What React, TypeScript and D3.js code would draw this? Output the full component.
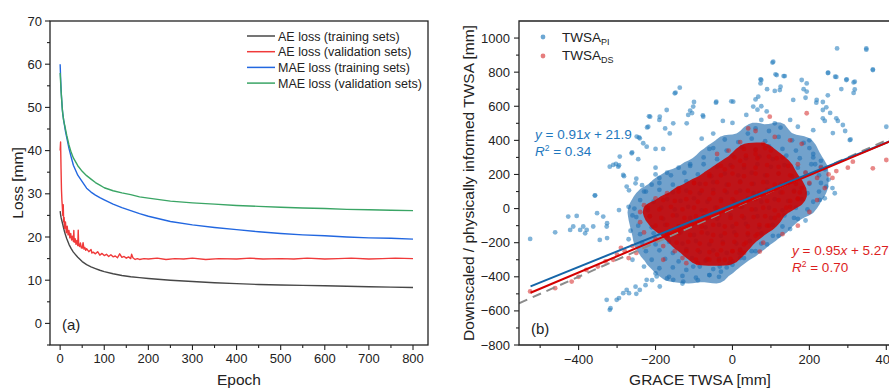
import React, { useMemo } from "react";
import * as d3 from "d3";

// ---------- Panel (a): loss curves ----------
const epochs = [0,1,2,3,4,5,6,8,10,12,15,20,25,30,40,50,60,70,80,90,100,120,140,160,180,200,250,300,350,400,450,500,550,600,650,700,750,800];
const aeTrain = [26,25.2,24.6,24.1,23.7,23.3,22.9,22,21.2,20.5,19.6,18.3,17.3,16.5,15.3,14.3,13.6,13.1,12.7,12.3,12,11.5,11.1,10.8,10.6,10.4,10,9.7,9.4,9.2,9,8.9,8.8,8.7,8.6,8.5,8.4,8.3];
const maeTrain = [60,57,54.5,52.5,51,49.5,48.5,47,45.8,44.5,43,40.5,38.5,36.6,34.3,32.8,31.3,30.4,29.7,29.1,28.6,27.6,26.8,26.1,25.4,24.8,23.6,22.8,22.2,21.7,21.2,20.8,20.5,20.3,20,19.8,19.7,19.5];
const maeVal = [58,56,54,52.5,51,49.5,48.5,47,46,45,43.5,41.3,39.6,38.3,36.5,35.2,34.2,33.4,32.6,32,31.4,30.7,30.2,29.8,29.3,29,28.3,27.9,27.6,27.3,27.1,26.9,26.7,26.6,26.4,26.3,26.2,26.1];
const aeValEpochs = [0,1,2,3,4,5,6,7,8,9,10,12,14,16,18,20,22,24,26,28,30,31,32,34,36,38,40,41,42,44,46,48,50,52,54,56,58,60,65,70,72,75,80,85,90,95,100,105,110,115,120,125,130,135,140,145,150,155,160,162,165,170,175,180,190,200,220,240,260,280,300,330,360,400,430,460,500,530,560,600,630,660,700,730,760,800];
const aeVal = [40,42,36,31,28.5,27,25,27.5,23.5,24.5,22,23.5,21,22.5,20.5,21.5,19.8,20.8,19.3,20.2,19,21.5,18.8,19.6,18.3,19.2,18,21.6,18.2,17.8,18.6,17.5,17.4,18.7,17.2,17.6,16.9,17.3,16.6,17.1,16.3,16.5,16.1,16.6,15.8,16.2,15.7,16,15.5,15.9,15.4,15.6,15.2,16.1,15.3,15.5,15.1,15.4,15,16,15.2,14.8,15,14.8,15,14.9,15.1,14.8,15,14.9,15.1,14.8,15,14.9,15.1,14.9,15,14.9,15.1,14.9,15,15.1,14.9,15,15.1,15];
const lossNames = ["AE loss (training sets)", "AE loss (validation sets)", "MAE loss (training sets)", "MAE loss (validation sets)"];
const lossColors = ["#474747", "#f03a3a", "#2267e0", "#3aa565"];
const epochTicks = [0,100,200,300,400,500,600,700,800];
const lossTicks = [0,10,20,30,40,50,60,70];

// ---------- Panel (b): scatter ----------
// scattered points (GRACE TWSA, TWSA_PI)
const twsaPI: [number, number][] = [
  [-526,-178],[-461,-139],[-427,-47],[-405,-43],[-422,-125],[-414,-105],[-396,-125],[-388,-105],[-379,-125],[-383,-145],[-362,-105],[-358,76],[-336,-47],[-327,-105],[-345,-184],[-319,246],[-310,256],[-293,305],[-297,246],[-284,197],[-262,324],[-275,129],[-249,422],[-241,412],[-232,383],[-223,363],[-214,539],[-219,480],[-189,539],[-171,578],[-150,676],[-137,709],[-115,549],[-102,598],[-119,500],[-154,500],[-163,441],[-76,539],[-42,627],[2,627],[36,549],[54,598],[67,656],[75,754],[106,861],[115,783],[136,777],[123,695],[158,637],[180,754],[193,734],[193,686],[219,637],[249,797],[267,773],[272,939],[296,754],[318,744],[318,699],[348,939],[365,812],[400,480],[235,578],[235,529],[270,529],[287,490],[305,402],[244,129],[266,90],[227,51],
  [-319,-594],[-327,-535],[-301,-535],[-284,-496],[-275,-477],[-241,-477],[-250,-500],[-223,-418],[-197,-398],[-189,-457],[-154,-418],[-128,-428],[-102,-340],[-68,-301],[-33,-340],[-7,-320],[19,-262],
  [-295,254],[-303,262],[-261,330],[-245,290],[-282,190],[-200,240],[-250,175],[-243,418],[-200,350],[-180,350],[-217,541],[-222,476],[-190,520],[-175,470],[-100,625],[-148,680],[-110,575],[-105,560],
  [-357,78],[-352,-27],[-326,-86],[-326,-173],[-269,107],[-252,148],[-235,137],[-295,-9],[-317,-584],[-295,-525],[-269,-496],[-252,-458],[-226,-449],[-209,-420],
  [348,932],[365,816],[104,856],[112,787],[133,777],[73,758],[73,734],[90,700],[110,690],[125,715],[185,700],[190,650],[248,795],[270,772],[297,758],[315,740],[283,701],[315,678],[248,664],[235,625],[218,621],[244,594],[254,561],[240,514],[274,514],[293,455],[307,405],[261,443],[-43,621],[-3,629],[-77,547],[-25,514],[0,502],[60,640],[75,600],[89,570],[65,580],
  [-260,-300],[-230,-340],[-200,-380],[-170,-410],[-130,-440],[-90,-420],[-60,-390],[-270,-180],[-265,-130],[-270,10],[-260,-40],[240,60],[260,120],[250,170],[240,230],[215,260],[230,280],[210,320],[200,400],[170,480],[210,460],[150,520],[110,500],[75,520],[-60,350],[-80,410],[-50,440],[-110,260],[-140,240],[-170,210],[-200,200],[-190,180],[-230,100],[-210,140],[170,-60],[190,-70],[150,-120],[120,-160],[90,-210],[60,-250],[30,-290],[0,-330],[-30,-370]
];
// dense core of TWSA_PI
const twsaPICore: [number, number][] = [
  [60,470],[95,455],[125,475],[40,440],
  [-20,405],[15,390],[50,410],[85,395],[120,420],[155,400],[185,385],
  [-50,355],[-15,340],[25,360],[60,345],[95,365],[130,350],[165,340],[200,355],
  [-75,300],[-40,290],[0,310],[35,295],[70,305],[105,290],[140,310],[175,295],[210,300],
  [-110,250],[-75,260],[-40,245],[-5,255],[30,240],[65,260],[100,245],[135,255],[170,240],[205,260],[230,245],
  [-160,195],[-125,210],[-90,200],[-55,190],[-20,205],[15,195],[50,210],[85,195],[120,205],[155,190],[190,210],[225,195],
  [-190,150],[-155,140],[-120,160],[-85,145],[-50,155],[-15,140],[20,160],[55,145],[90,155],[125,140],[160,160],[200,145],[230,150],
  [-225,100],[-190,110],[-155,95],[-120,105],[-85,90],[-50,110],[-15,95],[20,105],[55,90],[90,110],[125,95],[160,105],[195,90],[225,100],
  [-240,50],[-205,40],[-170,55],[-135,45],[-100,60],[-65,40],[-30,55],[5,45],[40,60],[75,40],[110,55],[145,45],[180,55],[210,40],
  [-255,0],[-220,-10],[-185,5],[-150,-5],[-115,10],[-80,-10],[-45,5],[-10,-5],[25,10],[60,-5],[95,5],[130,-10],[165,5],[195,-5],
  [-250,-50],[-215,-45],[-180,-60],[-145,-40],[-110,-55],[-75,-45],[-40,-60],[-5,-40],[30,-55],[65,-45],[100,-55],[135,-40],[160,-55],
  [-245,-100],[-210,-110],[-175,-95],[-140,-105],[-105,-90],[-70,-110],[-35,-95],[0,-105],[35,-90],[70,-110],[105,-95],[130,-105],
  [-240,-150],[-205,-145],[-170,-160],[-135,-140],[-100,-155],[-65,-145],[-30,-160],[5,-140],[40,-155],[75,-145],[105,-160],
  [-235,-200],[-200,-210],[-165,-195],[-130,-205],[-95,-190],[-60,-210],[-25,-195],[10,-205],[45,-190],[75,-205],
  [-225,-250],[-190,-245],[-155,-260],[-120,-240],[-85,-255],[-50,-245],[-15,-260],[20,-240],[50,-250],
  [-210,-300],[-175,-295],[-140,-310],[-105,-290],[-70,-305],[-35,-295],[0,-310],[20,-290],
  [-190,-350],[-155,-345],[-120,-360],[-85,-340],[-50,-355],[-15,-345],
  [-165,-400],[-130,-395],[-95,-405],[-60,-390],[-35,-400]
];
// scattered points (GRACE TWSA, TWSA_DS)
const twsaDS: [number, number][] = [
  [-526,-486],[-461,-467],[-418,-428],[-400,-400],[-380,-360],[-350,-340],[-330,-310],[-310,-300],[-300,-270],[-280,-250],[-270,-290],[-290,-230],[-260,-220],[-250,-260],
  [193,559],[97,539],[41,470],[60,455],[110,420],[150,400],[180,380],[80,380],[20,390],[-10,340],[-40,320],[313,275],[365,236],[400,285],[300,240],[270,220],[250,200],[230,240],[220,180],[200,150],[71,-252],[-60,-300],[-90,-320],[-130,-290],[-150,-250],[-180,-220],[-200,-180],[-230,-140],[-240,-80],[-240,-20],[-230,20],[-200,60],[-170,90],[-140,120],[-100,150],[-60,190],[-20,230],[20,280],[60,320],[100,340],[130,300],[170,260],[190,210],[180,120],[170,60],[150,10],[120,-40],[90,-100],[60,-160],[30,-210],[0,-250],[-40,-270],[-180,-300],[-120,-320],[-20,-300],[30,-260],[80,-200],[130,-150],[170,-100],[200,-20],[220,50],[240,120],[260,180]
];
// dense core of TWSA_DS
const twsaDSCore: [number, number][] = [
  [30,350],[60,345],[85,355],
  [5,300],[35,310],[65,295],[95,305],[115,295],
  [-30,250],[0,245],[30,255],[60,240],[90,255],[120,245],[145,250],
  [-60,200],[-30,195],[0,205],[30,190],[60,205],[90,195],[120,205],[150,195],
  [-100,150],[-70,145],[-40,155],[-10,140],[20,155],[50,145],[80,155],[110,140],[140,150],[165,145],
  [-140,100],[-110,95],[-80,105],[-50,90],[-20,105],[10,95],[40,105],[70,90],[100,105],[130,95],[160,100],[175,95],
  [-180,50],[-150,45],[-120,55],[-90,40],[-60,55],[-30,45],[0,55],[30,40],[60,55],[90,45],[120,50],[150,45],[170,55],
  [-220,5],[-190,-5],[-160,10],[-130,-5],[-100,5],[-70,-10],[-40,5],[-10,-5],[20,10],[50,-5],[80,5],[110,-10],[140,5],
  [-215,-45],[-185,-55],[-155,-40],[-125,-55],[-95,-45],[-65,-55],[-35,-40],[-5,-55],[25,-45],[55,-50],[85,-45],[110,-55],
  [-200,-100],[-170,-95],[-140,-105],[-110,-90],[-80,-105],[-50,-95],[-20,-105],[10,-90],[40,-105],[70,-95],[95,-100],
  [-170,-150],[-140,-145],[-110,-155],[-80,-140],[-50,-155],[-20,-145],[10,-155],[40,-145],[65,-150],
  [-145,-200],[-115,-195],[-85,-205],[-55,-190],[-25,-205],[5,-195],[35,-200],
  [-120,-250],[-90,-245],[-60,-255],[-30,-245],[0,-250],[20,-245],
  [-95,-300],[-65,-295],[-35,-305],[-5,-295]
];
const fitPI = { slope: 0.91, intercept: 21.9, x0: -525, x1: 420 };
const fitDS = { slope: 0.95, intercept: 5.27, x0: -525, x1: 420 };
const graceTicks = [-400,-200,0,200,400];
const twsaTicks = [-800,-600,-400,-200,0,200,400,600,800,1000];

const W = 889, H = 389;
const FONT = "'Liberation Sans', Arial, sans-serif";

export default function App() {
  const xL = d3.scaleLinear().domain([-23, 834]).range([50, 428]);
  const yL = d3.scaleLinear().domain([-5, 70]).range([345, 21]);
  const xR = d3.scaleLinear().domain([-555, 420]).range([519, 894]);
  const yR = d3.scaleLinear().domain([-800, 1100]).range([345, 21]);

  const lossLine = (xs: number[], ys: number[]) =>
    d3.line<number>().x((_, i) => xL(xs[i])).y((v) => yL(v))(ys) || "";
  const lossSeries = [
    { xs: epochs, ys: aeTrain },
    { xs: aeValEpochs, ys: aeVal },
    { xs: epochs, ys: maeTrain },
    { xs: epochs, ys: maeVal },
  ];

  const cores = useMemo(() => {
    const make = (pts: [number, number][], bw: number, frac: number) => {
      const cs = d3.contourDensity<[number, number]>()
        .x((d) => xR(d[0])).y((d) => yR(d[1]))
        .size([W, H]).bandwidth(bw).thresholds(40)(pts);
      const mx = d3.max(cs, (c) => c.value) || 1;
      let best = cs[0];
      for (const c of cs) if (Math.abs(c.value - frac * mx) < Math.abs(best.value - frac * mx)) best = c;
      return d3.geoPath()(best) || "";
    };
    return { blue: make(twsaPICore, 5, 0.35), red: make(twsaDSCore, 5, 0.35) };
  }, []);

  const minorL = d3.range(0, 801, 50);
  const minorLy = d3.range(-5, 71, 5);
  const minorRx = d3.range(-500, 401, 100);
  const minorRy = d3.range(-800, 1001, 100);

  const blueDot = "rgb(45,130,192)";
  const redDot = "rgb(214,38,38)";

  return (
    <svg width={W} height={H} style={{ position: "absolute", left: 0, top: 0, background: "#fff" }} fontFamily={FONT}>
      <defs>
        <clipPath id="clipR"><rect x={519} y={21} width={375} height={324} /></clipPath>
        <clipPath id="clipL"><rect x={50} y={21} width={378} height={324} /></clipPath>
      </defs>
      {/* ---------- Panel a ---------- */}
      <g clipPath="url(#clipL)">
        {lossSeries.map((s, i) => (
          <path key={i} d={lossLine(s.xs, s.ys)} fill="none" stroke={lossColors[i]} strokeWidth={1.4} strokeLinejoin="round" />
        ))}
      </g>
      <rect x={50} y={21} width={378} height={324} fill="none" stroke="#222" strokeWidth={1.3} />
      {minorL.map((t) => (
        <line key={"mx" + t} x1={xL(t)} x2={xL(t)} y1={345} y2={t % 100 === 0 ? 350 : 348} stroke="#222" strokeWidth={1.1} />
      ))}
      {minorLy.map((t) => (
        <line key={"my" + t} y1={yL(t)} y2={yL(t)} x1={50} x2={t % 10 === 0 ? 45 : 47} stroke="#222" strokeWidth={1.1} />
      ))}
      {epochTicks.map((t) => (
        <text key={"xt" + t} x={xL(t)} y={363} fontSize={13} textAnchor="middle" fill="#222">{t}</text>
      ))}
      {lossTicks.map((t) => (
        <text key={"yt" + t} x={42} y={yL(t) + 4.5} fontSize={13} textAnchor="end" fill="#222">{t}</text>
      ))}
      <text x={239} y={385} fontSize={15.5} textAnchor="middle" fill="#222">Epoch</text>
      <text transform="translate(23,183) rotate(-90)" fontSize={15.5} textAnchor="middle" fill="#222">Loss [mm]</text>
      <text x={62} y={330} fontSize={15} fill="#222">(a)</text>
      {lossNames.map((n, i) => (
        <g key={n}>
          <line x1={247} x2={275} y1={36 + i * 15.7} y2={36 + i * 15.7} stroke={lossColors[i]} strokeWidth={1.5} />
          <text x={278} y={40.5 + i * 15.7} fontSize={12.5} fill="#222">{n}</text>
        </g>
      ))}

      {/* ---------- Panel b ---------- */}
      <g clipPath="url(#clipR)">
        {twsaPI.concat(twsaPICore).map((p, i) => (
          <circle key={"b" + i} cx={xR(p[0])} cy={yR(p[1])} r={2.4} fill={blueDot} fillOpacity={0.6} />
        ))}
        <path d={cores.blue} fill="rgb(28,105,172)" fillOpacity={0.62} />
        {twsaDS.concat(twsaDSCore).map((p, i) => (
          <circle key={"r" + i} cx={xR(p[0])} cy={yR(p[1])} r={2.4} fill={redDot} fillOpacity={0.55} />
        ))}
        <path d={cores.red} fill="rgb(200,0,0)" fillOpacity={0.88} />
        <line x1={xR(-555)} y1={yR(-555)} x2={xR(420)} y2={yR(420)} stroke="#8c8c8c" strokeWidth={2} strokeDasharray="9,6" />
        <line x1={xR(fitPI.x0)} y1={yR(fitPI.slope * fitPI.x0 + fitPI.intercept)} x2={xR(fitPI.x1)} y2={yR(fitPI.slope * fitPI.x1 + fitPI.intercept)} stroke="#1565a8" strokeWidth={2} />
        <line x1={xR(fitDS.x0)} y1={yR(fitDS.slope * fitDS.x0 + fitDS.intercept)} x2={xR(fitDS.x1)} y2={yR(fitDS.slope * fitDS.x1 + fitDS.intercept)} stroke="#d40000" strokeWidth={2} />
      </g>
      <path d="M894,21 H519 V345 H894" fill="none" stroke="#222" strokeWidth={1.3} />
      {minorRx.map((t) => (
        <line key={"rx" + t} x1={xR(t)} x2={xR(t)} y1={345} y2={t % 200 === 0 ? 350 : 348} stroke="#222" strokeWidth={1.1} />
      ))}
      {minorRy.map((t) => (
        <line key={"ry" + t} y1={yR(t)} y2={yR(t)} x1={519} x2={t % 200 === 0 ? 514 : 516} stroke="#222" strokeWidth={1.1} />
      ))}
      {graceTicks.map((t) => (
        <text key={"gt" + t} x={xR(t)} y={364} fontSize={13} textAnchor="middle" fill="#222">{d3.format("")(t)}</text>
      ))}
      {twsaTicks.map((t) => (
        <text key={"tt" + t} x={510} y={yR(t) + 4.5} fontSize={13} textAnchor="end" fill="#222">{d3.format("")(t)}</text>
      ))}
      <text x={700} y={385} fontSize={15.5} textAnchor="middle" fill="#222">GRACE TWSA [mm]</text>
      <text transform="translate(474,183) rotate(-90)" fontSize={15.5} textAnchor="middle" fill="#222">Downscaled / physically informed TWSA [mm]</text>
      <text x={531} y={334} fontSize={15} fill="#222">(b)</text>
      <circle cx={543} cy={37} r={2.4} fill={blueDot} fillOpacity={0.7} />
      <circle cx={543} cy={56} r={2.4} fill={redDot} fillOpacity={0.6} />
      <text x={562} y={42} fontSize={13.5} fill="#222">TWSA<tspan fontSize={9} dy={3}>PI</tspan></text>
      <text x={562} y={60} fontSize={13.5} fill="#222">TWSA<tspan fontSize={9} dy={3}>DS</tspan></text>
      <text x={535} y={139} fontSize={13.5} fill="rgb(30,120,190)">
        <tspan fontStyle="italic">y</tspan> = 0.91<tspan fontStyle="italic">x</tspan> + 21.9
      </text>
      <text x={535} y={156} fontSize={13.5} fill="rgb(30,120,190)">
        <tspan fontStyle="italic">R</tspan><tspan fontSize={8.5} dy={-5}>2</tspan><tspan dy={5}> = 0.34</tspan>
      </text>
      <text x={792} y={255} fontSize={13.5} fill="rgb(220,30,30)">
        <tspan fontStyle="italic">y</tspan> = 0.95<tspan fontStyle="italic">x</tspan> + 5.27
      </text>
      <text x={792} y={272} fontSize={13.5} fill="rgb(220,30,30)">
        <tspan fontStyle="italic">R</tspan><tspan fontSize={8.5} dy={-5}>2</tspan><tspan dy={5}> = 0.70</tspan>
      </text>
    </svg>
  );
}
